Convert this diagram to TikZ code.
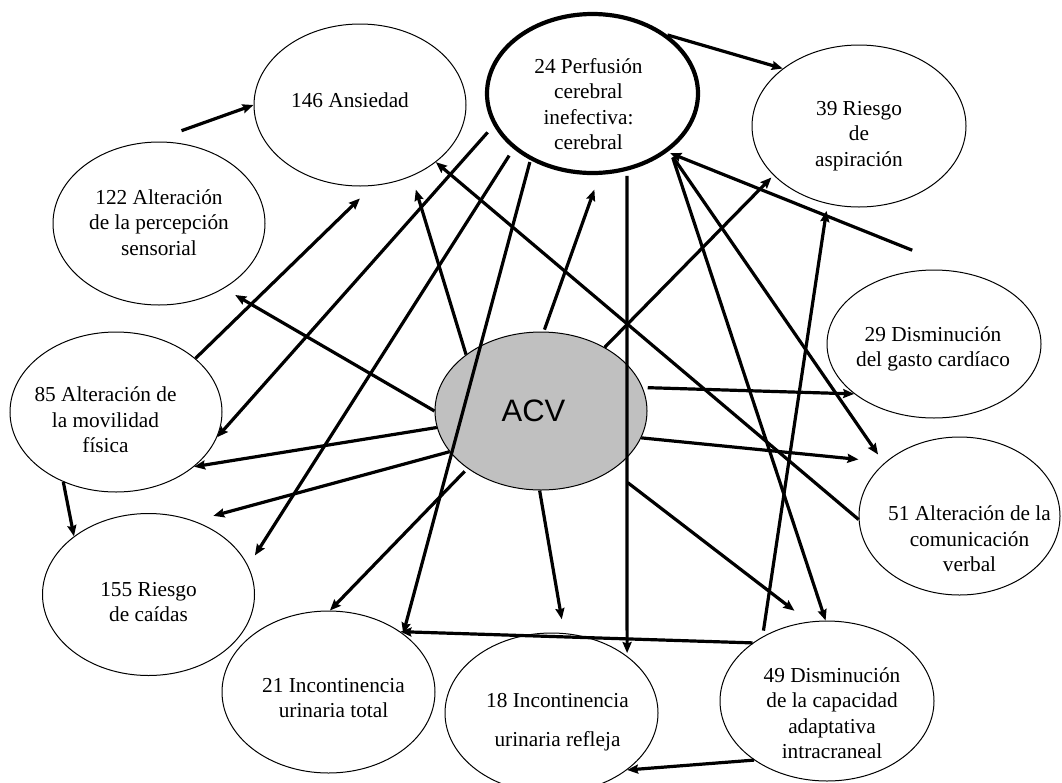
\documentclass[tikz,border=0pt]{standalone}
\usepackage{fontspec}
\setmainfont{Liberation Serif}
\newfontfamily\acvfont{Liberation Sans}
\usetikzlibrary{arrows.meta,shapes.geometric}

\definecolor{acvgray}{RGB}{192,192,192}

\begin{document}
\begin{tikzpicture}[x=1pt,y=-1pt,
  diag/.style 2 args={ellipse, draw=black, line width=1pt, inner sep=0pt,
    minimum width=#1pt, minimum height=#2pt},
  lbl/.style={inner sep=0pt, align=center, font=\fontsize{21.3}{25.5}\selectfont},
  arr/.style={line width=3.2pt, -{Stealth[length=11pt,width=9pt,inset=1.5pt]}}]

\useasboundingbox (0,0) rectangle (1062,782);

% diagnoses
\node[diag={212}{162}, label={[lbl,xshift=-10pt,yshift=5pt]center:146 Ansiedad}] (n146) at (360,105) {};
\node[diag={211}{159}, line width=4.2pt,
      label={[lbl,xshift=-4pt,yshift=-10.5pt]center:{24 Perfusión\\cerebral\\inefectiva:\\cerebral}}] (n24) at (592.5,93.5) {};
\node[diag={214}{162}, label={[lbl,yshift=-10pt]center:{39 Riesgo\\de\\aspiración}}] (n39) at (859,126) {};
\node[diag={214}{148}, label={[lbl,xshift=-1pt,yshift=-5pt]center:{29 Disminución\\del gasto cardíaco}}] (n29) at (934,344) {};
\node[diag={201}{158}, label={[lbl,xshift=10pt,yshift=-23pt]center:{51 Alteración de la\\comunicación\\verbal}}] (n51) at (959.5,516) {};
\node[diag={214}{160}, label={[lbl,xshift=5pt,yshift=-12pt]center:{49 Disminución\\de la capacidad\\adaptativa\\intracraneal}}] (n49) at (827,701) {};
\node[diag={213}{160}, label={[lbl,font=\fontsize{21.3}{39}\selectfont,xshift=6pt,yshift=-9.5pt]center:{18 Incontinencia\\urinaria refleja}}] (n18) at (551.5,713) {};
\node[diag={213}{162}, label={[lbl,xshift=5pt,yshift=-6pt]center:{21 Incontinencia\\urinaria total}}] (n21) at (328.5,692) {};
\node[diag={212}{162}, label={[lbl,yshift=-7.5pt]center:{155 Riesgo\\de caídas}}] (n155) at (148.5,594.5) {};
\node[diag={212}{160}, label={[lbl,xshift=-10.5pt,yshift=-8pt]center:{85 Alteración de\\la movilidad\\física}}] (n85) at (116,412) {};
\node[diag={212}{163}, label={[lbl,yshift=1pt]center:{122 Alteración\\de la percepción\\sensorial}}] (n122) at (159,223.5) {};

% central cause
\node[diag={212}{158}, fill=acvgray,
      label={[inner sep=0pt,font=\acvfont\fontsize{31}{36}\selectfont,xshift=-7.5pt]center:ACV}] (acv) at (541,411) {};

% relations
\draw[arr, shorten <=33pt] (n122.96) -- (n146.180);
\draw[arr] (n24.38) -- (n39.143);
\draw[arr, shorten >=18pt] (n85.34) -- (n146.-81);
\draw[arr, shorten <=9pt] (n24.-162) -- (n85.-14);
\draw[arr, shorten <=8pt, shorten >=12.5pt] (n24.-145) -- (n155.16);
\draw[arr, shorten <=2pt] (n24.-133) -- (n21.38);
\draw[arr, shorten >=14pt] (acv.143) -- (n146.-54.5);
\draw[arr, shorten >=13pt] (acv.180) -- (n122.-45);
\draw[arr] (n51.-178) -- (n146.-37);
\draw[arr, shorten <=65pt, shorten >=3pt] (n29.61) -- (n24.-38);
\draw[arr, shorten <=2pt, shorten >=15.6pt] (acv.88) -- (n24.-85.5);
\draw[arr, shorten >=3pt] (acv.45) -- (n39.-150);
\draw[arr, shorten <=5pt, shorten >=3pt] (n24.-66) -- (n18.37);
\draw[arr] (n49.142.6) -- (n21.40);
\draw[arr, shorten <=6pt, shorten >=7pt] (n49.135.6) -- (n39.-112.8);
\draw[arr, shorten <=8pt] (n24.-36) -- (n49.91);
\draw[arr, shorten <=7.4pt, shorten >=10.5pt] (n24.-37) -- (n51.145.4);
\draw[arr, shorten <=5pt] (acv.13.4) -- (n29.-148);
\draw[arr, shorten >=27pt] (acv.-15.8) -- (n51.144.7);
\draw[arr, shorten <=20pt, shorten >=18pt] (acv.-40) -- (n49.103.6);
\draw[arr, shorten >=14pt] (acv.-91) -- (n18.81);
\draw[arr, shorten <=4pt] (acv.-142.4) -- (n21.89);
\draw[arr] (acv.-171) -- (n85.-35.5);
\draw[arr, shorten >=19.6pt] (acv.-156) -- (n155.58);
\draw[arr] (n85.-127) -- (n155.142);
\draw[arr] (n49.-141.5) -- (n18.-37);

\end{tikzpicture}
\end{document}
